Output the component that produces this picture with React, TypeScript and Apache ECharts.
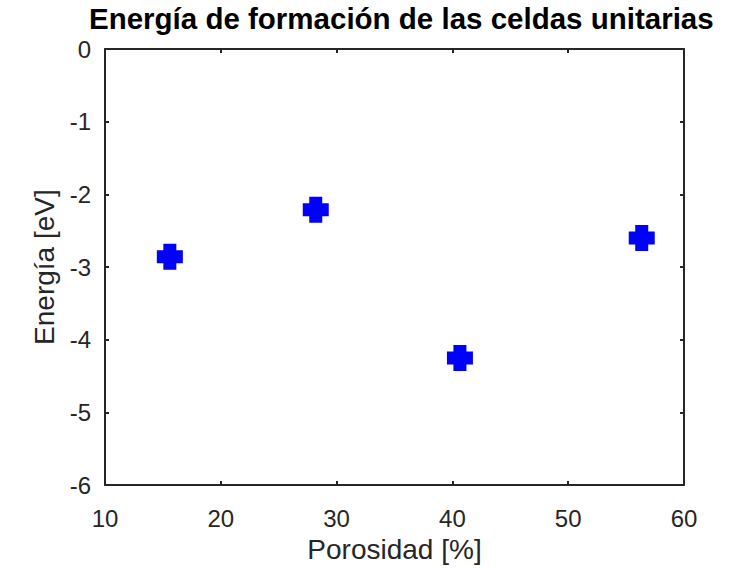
import React, { useEffect, useRef } from "react";
import * as echarts from "echarts";

const porosidad = [15.6, 28.2, 40.65, 56.35];
const energia = [-2.86, -2.21, -4.25, -2.6];
const xTicks = [10, 20, 30, 40, 50, 60];
const yTicks = [-6, -5, -4, -3, -2, -1, 0];

const titleText = "Energía de formación de las celdas unitarias";
const xName = "Porosidad [%]";
const yName = "Energía [eV]";

export default function App() {
  const ref = useRef<HTMLDivElement>(null);
  useEffect(() => {
    if (!ref.current) return;
    const chart = echarts.init(ref.current, null, { renderer: "svg" });
    const axisColor = "#262626";
    const font = "Liberation Sans, Arial, Helvetica, sans-serif";
    const lineStyle = { color: axisColor, width: 2 };
    chart.setOption({
      animation: false,
      backgroundColor: "#ffffff",
      textStyle: { fontFamily: font },
      title: {
        text: titleText,
        left: 84,
        top: -2,
        textStyle: { fontSize: 29.5, fontWeight: "bold", color: "#000", fontFamily: font },
      },
      grid: { left: 105, right: 59, top: 49, bottom: 79 },
      xAxis: [
        {
          type: "value",
          min: xTicks[0],
          max: xTicks[xTicks.length - 1],
          interval: 10,
          position: "bottom",
          name: xName,
          nameLocation: "middle",
          nameGap: 45,
          nameTextStyle: { fontSize: 28, color: axisColor, fontFamily: font },
          axisLine: { show: true, onZero: false, lineStyle },
          axisTick: { show: true, inside: true, length: 4, lineStyle },
          axisLabel: { fontSize: 24, color: axisColor, margin: 21, fontFamily: font },
          splitLine: { show: false },
        },
        {
          type: "value",
          min: xTicks[0],
          max: xTicks[xTicks.length - 1],
          interval: 10,
          position: "top",
          axisLine: { show: true, onZero: false, lineStyle },
          axisTick: { show: true, inside: true, length: 4, lineStyle },
          axisLabel: { show: false },
          splitLine: { show: false },
        },
      ],
      yAxis: [
        {
          type: "value",
          min: yTicks[0],
          max: yTicks[yTicks.length - 1],
          interval: 1,
          position: "left",
          name: yName,
          nameLocation: "middle",
          nameGap: 46,
          nameTextStyle: { fontSize: 28, color: axisColor, fontFamily: font },
          axisLine: { show: true, onZero: false, lineStyle },
          axisTick: { show: true, inside: true, length: 4, lineStyle },
          axisLabel: { fontSize: 24, color: axisColor, margin: 14, fontFamily: font },
          splitLine: { show: false },
        },
        {
          type: "value",
          min: yTicks[0],
          max: yTicks[yTicks.length - 1],
          interval: 1,
          position: "right",
          axisLine: { show: true, onZero: false, lineStyle },
          axisTick: { show: true, inside: true, length: 4, lineStyle },
          axisLabel: { show: false },
          splitLine: { show: false },
        },
      ],
      series: [
        {
          type: "scatter",
          xAxisIndex: 0,
          yAxisIndex: 0,
          data: porosidad.map((x, i) => [x, energia[i]]),
          symbol: "path://M1,0H3V1H4V3H3V4H1V3H0V1H1Z",
          symbolSize: 26,
          itemStyle: { color: "#0000ff", opacity: 1 },
        },
      ],
    });
    return () => chart.dispose();
  }, []);
  return (
    <div
      ref={ref}
      style={{ position: "fixed", left: 0, top: 0, width: 743, height: 568 }}
    />
  );
}
